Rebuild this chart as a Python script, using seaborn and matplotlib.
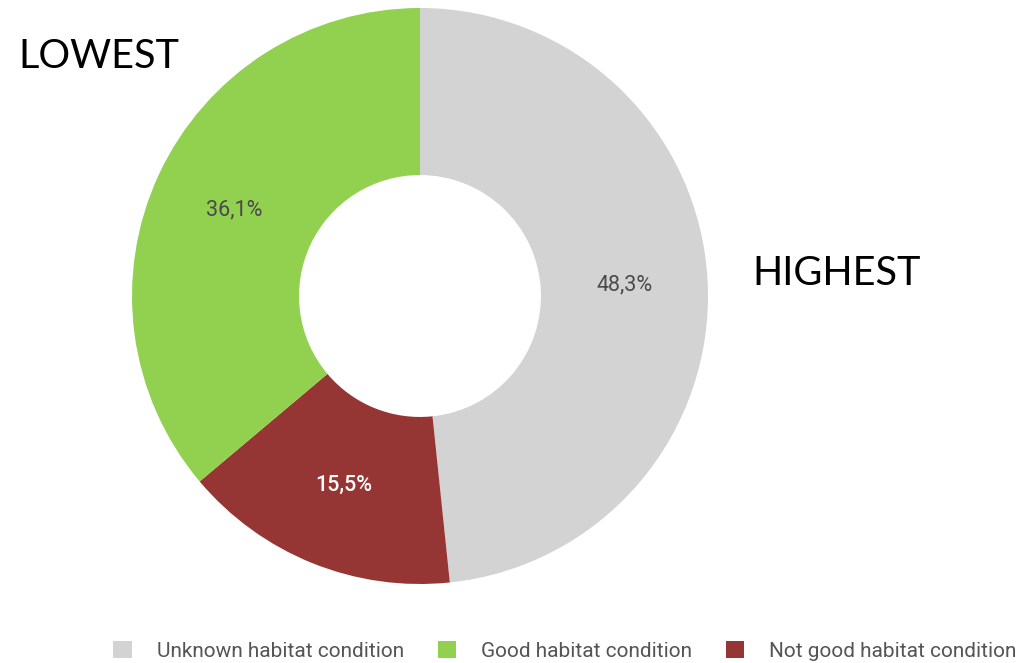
import matplotlib
matplotlib.use("Agg")
import matplotlib.pyplot as plt
from matplotlib.patches import Patch
import seaborn as sns
import numpy as np

# Data (clockwise from 12 o'clock)
categories = ["Unknown habitat condition", "Not good habitat condition", "Good habitat condition"]
values = [48.3, 15.5, 36.1]
value_labels = ["48,3%", "15,5%", "36,1%"]
colors = ["#d3d3d3", "#963634", "#92d050"]
label_colors = ["#4a4a4a", "#ffffff", "#4a4a4a"]
legend_order = ["Unknown habitat condition", "Good habitat condition", "Not good habitat condition"]

sns.set_theme(style="white")
plt.rcParams['font.family'] = ['Roboto', 'DejaVu Sans']

W, H = 1020, 663
fig = plt.figure(figsize=(W / 100, H / 100), dpi=100)
cx, cy, R = 420, 296, 288
ax = fig.add_axes([(cx - R) / W, (H - cy - R) / H, 2 * R / W, 2 * R / H])

inner = 0.42
wedges, _ = ax.pie(values, colors=colors, startangle=90, counterclock=False,
                   radius=1.0, wedgeprops=dict(width=1 - inner, edgecolor="none", linewidth=0))
ax.set_xlim(-1, 1)
ax.set_ylim(-1, 1)
ax.set_aspect("equal")
ax.axis("off")

start = 90.0
rl = (1 + inner) / 2
for v, lab, lc in zip(values, value_labels, label_colors):
    frac = v / sum(values)
    mid = start - frac * 360 / 2
    start -= frac * 360
    x, y = rl * np.cos(np.radians(mid)), rl * np.sin(np.radians(mid))
    ax.text(x, y, lab, ha="center", va="center", fontsize=15.5, color=lc,
            fontweight="medium" if lc == "#ffffff" else "normal")

fig.text(18 / W, 1 - 68 / H, "LOWEST", fontsize=28.5, family=["Lato", "DejaVu Sans"],
         color="black", ha="left", va="baseline")
fig.text(752 / W, 1 - 285 / H, "HIGHEST", fontsize=28.5, family=["Lato", "DejaVu Sans"],
         color="black", ha="left", va="baseline")

cmap = dict(zip(categories, colors))
handles = [Patch(facecolor=cmap[c], edgecolor="none") for c in legend_order]
fig.legend(handles, legend_order, loc="center", bbox_to_anchor=(565 / W, 1 - 651 / H),
           ncol=3, frameon=False, fontsize=15, labelcolor="#555555",
           handlelength=0.9, handleheight=0.9, handletextpad=1.2, columnspacing=1.6,
           borderpad=0, borderaxespad=0)

fig.savefig("out.png", dpi=100, facecolor="white")
